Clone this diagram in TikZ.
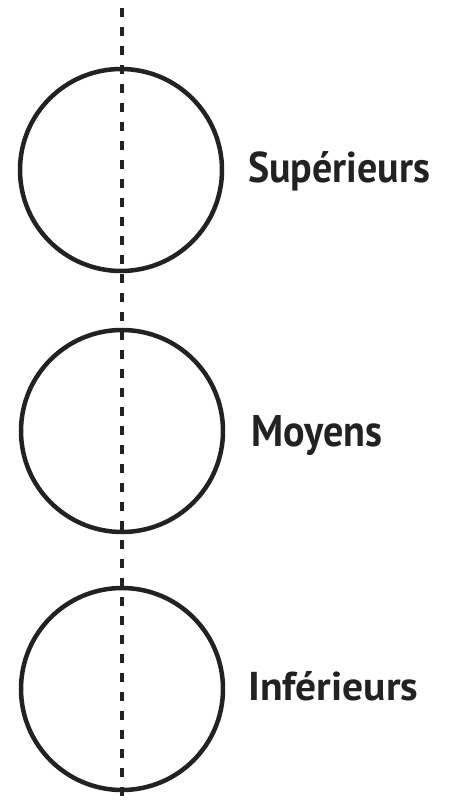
\documentclass[tikz,border=0pt]{standalone}
\usepackage{fontspec}
\usepackage{graphicx}
\setmainfont{PT Sans}
\definecolor{ink}{HTML}{222222}
\begin{document}
\begin{tikzpicture}[x=1pt,y=-1pt,
  ring/.style={circle,draw=ink,line width=4.5pt,minimum size=202pt,inner sep=0pt},
  axisline/.style={draw=ink,line width=4.5pt,dash pattern=on 9pt off 10pt},
  lbl/.style={anchor=base west,inner sep=0pt,text=ink,font=\bfseries}]
\useasboundingbox (0,0) rectangle (448,802);
\coordinate (top) at (122,8);
\coordinate (bot) at (122,800);
\draw[axisline] (top) -- (bot);
\node[ring] (c1) at (121,170) {};
\node[ring] (c2) at (122,431) {};
\node[ring] (c3) at (122,689) {};
\node[lbl] (l1) at (248,183) {\resizebox{182pt}{31pt}{Supérieurs}};
\node[lbl] (l2) at (251,446) {\resizebox{131pt}{31pt}{Moyens}};
\node[lbl] (l3) at (248,700) {\resizebox{170pt}{29pt}{Inférieurs}};
\end{tikzpicture}
\end{document}
